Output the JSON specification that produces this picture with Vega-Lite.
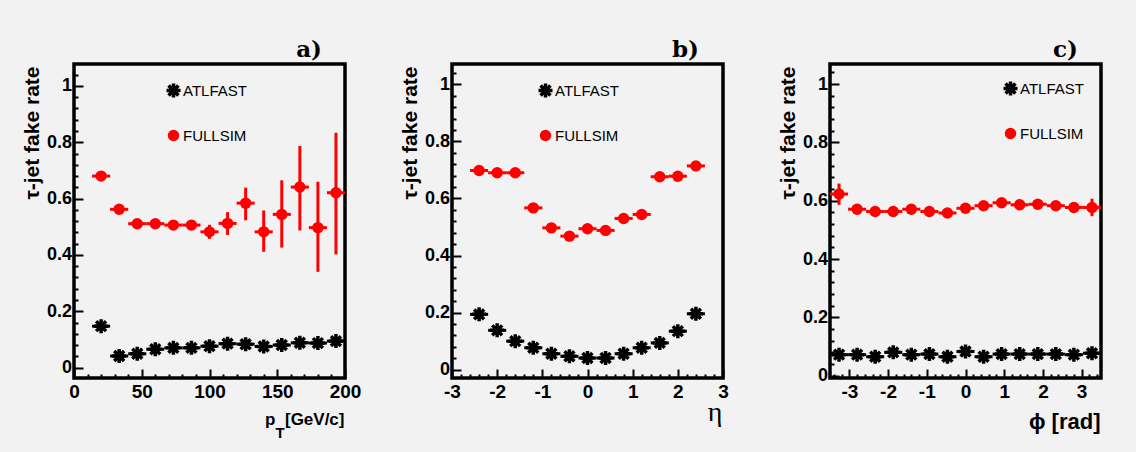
{
  "$schema": "https://vega.github.io/schema/vega-lite/v6.json",
  "background": "#f2f2f2",
  "padding": {"left": 19, "top": 37, "right": 40, "bottom": 15},
  "bounds": "flush",
  "spacing": 107,
  "resolve": {
    "scale": {"color": "independent", "shape": "independent", "size": "independent"},
    "legend": {"color": "independent", "shape": "independent", "size": "independent"}
  },
  "data": {"values": [
    {"p":"a","s":"ATLFAST","x":20,"xl":13.33,"xh":26.67,"y":0.147,"yl":0.142,"yh":0.152},
    {"p":"a","s":"ATLFAST","x":33.33,"xl":26.67,"xh":40,"y":0.041,"yl":0.036,"yh":0.046},
    {"p":"a","s":"ATLFAST","x":46.67,"xl":40,"xh":53.33,"y":0.049,"yl":0.044,"yh":0.054},
    {"p":"a","s":"ATLFAST","x":60,"xl":53.33,"xh":66.67,"y":0.065,"yl":0.06,"yh":0.07},
    {"p":"a","s":"ATLFAST","x":73.33,"xl":66.67,"xh":80,"y":0.07,"yl":0.065,"yh":0.075},
    {"p":"a","s":"ATLFAST","x":86.67,"xl":80,"xh":93.33,"y":0.07,"yl":0.065,"yh":0.075},
    {"p":"a","s":"ATLFAST","x":100,"xl":93.33,"xh":106.67,"y":0.076,"yl":0.071,"yh":0.081},
    {"p":"a","s":"ATLFAST","x":113.33,"xl":106.67,"xh":120,"y":0.085,"yl":0.08,"yh":0.09},
    {"p":"a","s":"ATLFAST","x":126.67,"xl":120,"xh":133.33,"y":0.083,"yl":0.078,"yh":0.088},
    {"p":"a","s":"ATLFAST","x":140,"xl":133.33,"xh":146.67,"y":0.075,"yl":0.07,"yh":0.08},
    {"p":"a","s":"ATLFAST","x":153.33,"xl":146.67,"xh":160,"y":0.08,"yl":0.075,"yh":0.085},
    {"p":"a","s":"ATLFAST","x":166.67,"xl":160,"xh":173.33,"y":0.088,"yl":0.083,"yh":0.093},
    {"p":"a","s":"ATLFAST","x":180,"xl":173.33,"xh":186.67,"y":0.087,"yl":0.082,"yh":0.092},
    {"p":"a","s":"ATLFAST","x":193.33,"xl":186.67,"xh":200,"y":0.094,"yl":0.089,"yh":0.099},
    {"p":"a","s":"FULLSIM","x":20,"xl":13.33,"xh":26.67,"y":0.68,"yl":0.665,"yh":0.695},
    {"p":"a","s":"FULLSIM","x":33.33,"xl":26.67,"xh":40,"y":0.562,"yl":0.547,"yh":0.577},
    {"p":"a","s":"FULLSIM","x":46.67,"xl":40,"xh":53.33,"y":0.511,"yl":0.496,"yh":0.526},
    {"p":"a","s":"FULLSIM","x":60,"xl":53.33,"xh":66.67,"y":0.511,"yl":0.496,"yh":0.526},
    {"p":"a","s":"FULLSIM","x":73.33,"xl":66.67,"xh":80,"y":0.506,"yl":0.491,"yh":0.521},
    {"p":"a","s":"FULLSIM","x":86.67,"xl":80,"xh":93.33,"y":0.506,"yl":0.488,"yh":0.524},
    {"p":"a","s":"FULLSIM","x":100,"xl":93.33,"xh":106.67,"y":0.482,"yl":0.457,"yh":0.507},
    {"p":"a","s":"FULLSIM","x":113.33,"xl":106.67,"xh":120,"y":0.512,"yl":0.471,"yh":0.552},
    {"p":"a","s":"FULLSIM","x":126.67,"xl":120,"xh":133.33,"y":0.584,"yl":0.523,"yh":0.639},
    {"p":"a","s":"FULLSIM","x":140,"xl":133.33,"xh":146.67,"y":0.482,"yl":0.411,"yh":0.558},
    {"p":"a","s":"FULLSIM","x":153.33,"xl":146.67,"xh":160,"y":0.544,"yl":0.426,"yh":0.665},
    {"p":"a","s":"FULLSIM","x":166.67,"xl":160,"xh":173.33,"y":0.641,"yl":0.487,"yh":0.787},
    {"p":"a","s":"FULLSIM","x":180,"xl":173.33,"xh":186.67,"y":0.497,"yl":0.34,"yh":0.66},
    {"p":"a","s":"FULLSIM","x":193.33,"xl":186.67,"xh":200,"y":0.621,"yl":0.402,"yh":0.834},

    {"p":"b","s":"ATLFAST","x":-2.4,"xl":-2.6,"xh":-2.2,"y":0.194,"yl":0.189,"yh":0.199},
    {"p":"b","s":"ATLFAST","x":-2,"xl":-2.2,"xh":-1.8,"y":0.138,"yl":0.133,"yh":0.143},
    {"p":"b","s":"ATLFAST","x":-1.6,"xl":-1.8,"xh":-1.4,"y":0.1,"yl":0.095,"yh":0.105},
    {"p":"b","s":"ATLFAST","x":-1.2,"xl":-1.4,"xh":-1,"y":0.077,"yl":0.072,"yh":0.082},
    {"p":"b","s":"ATLFAST","x":-0.8,"xl":-1,"xh":-0.6,"y":0.056,"yl":0.051,"yh":0.061},
    {"p":"b","s":"ATLFAST","x":-0.4,"xl":-0.6,"xh":-0.2,"y":0.047,"yl":0.042,"yh":0.052},
    {"p":"b","s":"ATLFAST","x":0,"xl":-0.2,"xh":0.2,"y":0.041,"yl":0.036,"yh":0.046},
    {"p":"b","s":"ATLFAST","x":0.4,"xl":0.2,"xh":0.6,"y":0.041,"yl":0.036,"yh":0.046},
    {"p":"b","s":"ATLFAST","x":0.8,"xl":0.6,"xh":1,"y":0.056,"yl":0.051,"yh":0.061},
    {"p":"b","s":"ATLFAST","x":1.2,"xl":1,"xh":1.4,"y":0.077,"yl":0.072,"yh":0.082},
    {"p":"b","s":"ATLFAST","x":1.6,"xl":1.4,"xh":1.8,"y":0.094,"yl":0.089,"yh":0.099},
    {"p":"b","s":"ATLFAST","x":2,"xl":1.8,"xh":2.2,"y":0.135,"yl":0.13,"yh":0.14},
    {"p":"b","s":"ATLFAST","x":2.4,"xl":2.2,"xh":2.6,"y":0.196,"yl":0.191,"yh":0.201},
    {"p":"b","s":"FULLSIM","x":-2.4,"xl":-2.6,"xh":-2.2,"y":0.698,"yl":0.683,"yh":0.713},
    {"p":"b","s":"FULLSIM","x":-2,"xl":-2.2,"xh":-1.8,"y":0.69,"yl":0.675,"yh":0.705},
    {"p":"b","s":"FULLSIM","x":-1.6,"xl":-1.8,"xh":-1.4,"y":0.69,"yl":0.675,"yh":0.705},
    {"p":"b","s":"FULLSIM","x":-1.2,"xl":-1.4,"xh":-1,"y":0.567,"yl":0.552,"yh":0.582},
    {"p":"b","s":"FULLSIM","x":-0.8,"xl":-1,"xh":-0.6,"y":0.497,"yl":0.482,"yh":0.512},
    {"p":"b","s":"FULLSIM","x":-0.4,"xl":-0.6,"xh":-0.2,"y":0.468,"yl":0.453,"yh":0.483},
    {"p":"b","s":"FULLSIM","x":0,"xl":-0.2,"xh":0.2,"y":0.494,"yl":0.479,"yh":0.509},
    {"p":"b","s":"FULLSIM","x":0.4,"xl":0.2,"xh":0.6,"y":0.488,"yl":0.473,"yh":0.503},
    {"p":"b","s":"FULLSIM","x":0.8,"xl":0.6,"xh":1,"y":0.53,"yl":0.515,"yh":0.545},
    {"p":"b","s":"FULLSIM","x":1.2,"xl":1,"xh":1.4,"y":0.544,"yl":0.529,"yh":0.559},
    {"p":"b","s":"FULLSIM","x":1.6,"xl":1.4,"xh":1.8,"y":0.676,"yl":0.661,"yh":0.691},
    {"p":"b","s":"FULLSIM","x":2,"xl":1.8,"xh":2.2,"y":0.678,"yl":0.663,"yh":0.693},
    {"p":"b","s":"FULLSIM","x":2.4,"xl":2.2,"xh":2.6,"y":0.714,"yl":0.699,"yh":0.729},

    {"p":"c","s":"ATLFAST","x":-3.267,"xl":-3.5,"xh":-3.033,"y":0.072,"yl":0.067,"yh":0.077},
    {"p":"c","s":"ATLFAST","x":-2.8,"xl":-3.033,"xh":-2.567,"y":0.072,"yl":0.067,"yh":0.077},
    {"p":"c","s":"ATLFAST","x":-2.333,"xl":-2.567,"xh":-2.1,"y":0.065,"yl":0.06,"yh":0.07},
    {"p":"c","s":"ATLFAST","x":-1.867,"xl":-2.1,"xh":-1.633,"y":0.08,"yl":0.075,"yh":0.085},
    {"p":"c","s":"ATLFAST","x":-1.4,"xl":-1.633,"xh":-1.167,"y":0.072,"yl":0.067,"yh":0.077},
    {"p":"c","s":"ATLFAST","x":-0.933,"xl":-1.167,"xh":-0.7,"y":0.074,"yl":0.069,"yh":0.079},
    {"p":"c","s":"ATLFAST","x":-0.467,"xl":-0.7,"xh":-0.233,"y":0.065,"yl":0.06,"yh":0.07},
    {"p":"c","s":"ATLFAST","x":0,"xl":-0.233,"xh":0.233,"y":0.083,"yl":0.078,"yh":0.088},
    {"p":"c","s":"ATLFAST","x":0.467,"xl":0.233,"xh":0.7,"y":0.065,"yl":0.06,"yh":0.07},
    {"p":"c","s":"ATLFAST","x":0.933,"xl":0.7,"xh":1.167,"y":0.074,"yl":0.069,"yh":0.079},
    {"p":"c","s":"ATLFAST","x":1.4,"xl":1.167,"xh":1.633,"y":0.074,"yl":0.069,"yh":0.079},
    {"p":"c","s":"ATLFAST","x":1.867,"xl":1.633,"xh":2.1,"y":0.074,"yl":0.069,"yh":0.079},
    {"p":"c","s":"ATLFAST","x":2.333,"xl":2.1,"xh":2.567,"y":0.074,"yl":0.069,"yh":0.079},
    {"p":"c","s":"ATLFAST","x":2.8,"xl":2.567,"xh":3.033,"y":0.072,"yl":0.067,"yh":0.077},
    {"p":"c","s":"ATLFAST","x":3.267,"xl":3.033,"xh":3.5,"y":0.077,"yl":0.072,"yh":0.082},
    {"p":"c","s":"FULLSIM","x":-3.267,"xl":-3.5,"xh":-3.033,"y":0.623,"yl":0.586,"yh":0.659},
    {"p":"c","s":"FULLSIM","x":-2.8,"xl":-3.033,"xh":-2.567,"y":0.571,"yl":0.556,"yh":0.586},
    {"p":"c","s":"FULLSIM","x":-2.333,"xl":-2.567,"xh":-2.1,"y":0.563,"yl":0.548,"yh":0.578},
    {"p":"c","s":"FULLSIM","x":-1.867,"xl":-2.1,"xh":-1.633,"y":0.563,"yl":0.548,"yh":0.578},
    {"p":"c","s":"FULLSIM","x":-1.4,"xl":-1.633,"xh":-1.167,"y":0.571,"yl":0.556,"yh":0.586},
    {"p":"c","s":"FULLSIM","x":-0.933,"xl":-1.167,"xh":-0.7,"y":0.563,"yl":0.548,"yh":0.578},
    {"p":"c","s":"FULLSIM","x":-0.467,"xl":-0.7,"xh":-0.233,"y":0.558,"yl":0.543,"yh":0.573},
    {"p":"c","s":"FULLSIM","x":0,"xl":-0.233,"xh":0.233,"y":0.574,"yl":0.559,"yh":0.589},
    {"p":"c","s":"FULLSIM","x":0.467,"xl":0.233,"xh":0.7,"y":0.583,"yl":0.568,"yh":0.598},
    {"p":"c","s":"FULLSIM","x":0.933,"xl":0.7,"xh":1.167,"y":0.593,"yl":0.578,"yh":0.608},
    {"p":"c","s":"FULLSIM","x":1.4,"xl":1.167,"xh":1.633,"y":0.586,"yl":0.571,"yh":0.601},
    {"p":"c","s":"FULLSIM","x":1.867,"xl":1.633,"xh":2.1,"y":0.588,"yl":0.573,"yh":0.603},
    {"p":"c","s":"FULLSIM","x":2.333,"xl":2.1,"xh":2.567,"y":0.583,"yl":0.568,"yh":0.598},
    {"p":"c","s":"FULLSIM","x":2.8,"xl":2.567,"xh":3.033,"y":0.577,"yl":0.562,"yh":0.592},
    {"p":"c","s":"FULLSIM","x":3.267,"xl":3.033,"xh":3.5,"y":0.577,"yl":0.547,"yh":0.607}
  ]},
  "hconcat": [
    {
      "width": 271, "height": 314,
      "title": {"text": "a)", "anchor": "end", "frame": "group", "dx": -23, "offset": -16, "baseline": "alphabetic", "font": "DejaVu Serif", "fontSize": 23, "fontWeight": "bold", "color": "black"},
      "transform": [{"filter": "datum.p == 'a'"}],
      "resolve": {"axis": {"x": "independent", "y": "independent"}},
      "layer": [
        {
          "mark": {"type": "rule", "strokeWidth": 3},
          "encoding": {
            "x": {"field": "xl", "type": "quantitative", "scale": {"domain": [0, 200], "nice": false, "zero": false},
              "axis": {"orient": "bottom", "values": [0,50,100,150,200], "labelExpr": "toString(datum.value)", "tickSize": -9, "labelPadding": 13,
                "title": "[GeV/c]", "titleX": 270, "titleY": 46, "titleAlign": "right", "titleBaseline": "alphabetic", "titleAnchor": null}},
            "x2": {"field": "xh"},
            "y": {"field": "y", "type": "quantitative", "scale": {"domain": [-0.037, 1.078], "nice": false, "zero": false},
              "axis": {"orient": "left", "values": [0,0.2,0.4,0.6,0.8,1], "labelExpr": "toString(datum.value)", "tickSize": -9, "labelPadding": 11.5,
                "title": "τ-jet fake rate", "titleX": -35.5, "titleY": 2, "titleAngle": 270, "titleAlign": "right", "titleBaseline": "alphabetic", "titleAnchor": null}},
            "color": {"condition": {"test": "datum.s == 'FULLSIM'", "value": "#ff0000"}, "value": "black"}
          }
        },
        {
          "mark": {"type": "rule", "strokeWidth": 3},
          "encoding": {
            "x": {"field": "x", "type": "quantitative",
              "axis": {"orient": "bottom", "values": [10,20,30,40,60,70,80,90,110,120,130,140,160,170,180,190], "labels": false, "tickSize": -4,
                "title": "p", "titleX": 201, "titleY": 46, "titleAlign": "right", "titleBaseline": "alphabetic", "titleAnchor": null}},
            "y": {"field": "yl", "type": "quantitative",
              "axis": {"orient": "left", "values": [0.04,0.08,0.12,0.16,0.24,0.28,0.32,0.36,0.44,0.48,0.52,0.56,0.64,0.68,0.72,0.76,0.84,0.88,0.92,0.96,1.04], "labels": false, "tickSize": -4, "title": null}},
            "y2": {"field": "yh"},
            "color": {"condition": {"test": "datum.s == 'FULLSIM'", "value": "#ff0000"}, "value": "black"}
          }
        },
        {
          "mark": {"type": "point", "filled": true, "opacity": 1, "strokeWidth": 0},
          "encoding": {
            "x": {"field": "x", "type": "quantitative",
              "axis": {"orient": "bottom", "labels": false, "ticks": false, "domain": false, "title": "T", "titleFontSize": 15, "titleX": 201, "titleY": 59, "titleAlign": "left", "titleBaseline": "alphabetic", "titleAnchor": null}},
            "y": {"field": "y", "type": "quantitative", "axis": null},
            "color": {"field": "s", "type": "nominal", "scale": {"domain": ["ATLFAST", "FULLSIM"], "range": ["black", "#ff0000"]},
              "legend": {"orient": "none", "legendX": 92, "legendY": 19, "title": null}},
            "shape": {"field": "s", "type": "nominal", "scale": {"domain": ["ATLFAST", "FULLSIM"], "range": ["M-1,-0.25L1,-0.25L1,0.25L-1,0.25ZM-0.25,-1L0.25,-1L0.25,1L-0.25,1ZM-0.53,-0.884L0.884,0.53L0.53,0.884L-0.884,-0.53ZM0.884,-0.53L-0.53,0.884L-0.884,0.53L0.53,-0.884Z", "circle"]},
              "legend": {"orient": "none", "legendX": 92, "legendY": 19, "title": null}},
            "size": {"field": "s", "type": "ordinal", "scale": {"domain": ["ATLFAST", "FULLSIM"], "range": [196, 130]},
              "legend": {"orient": "none", "legendX": 92, "legendY": 19, "title": null}}
          }
        }
      ]
    },
    {
      "width": 271, "height": 314,
      "title": {"text": "b)", "anchor": "end", "frame": "group", "dx": -24, "offset": -16, "baseline": "alphabetic", "font": "DejaVu Serif", "fontSize": 23, "fontWeight": "bold", "color": "black"},
      "transform": [{"filter": "datum.p == 'b'"}],
      "resolve": {"axis": {"x": "independent", "y": "independent"}},
      "layer": [
        {
          "mark": {"type": "rule", "strokeWidth": 3},
          "encoding": {
            "x": {"field": "xl", "type": "quantitative", "scale": {"domain": [-3, 3], "nice": false, "zero": false},
              "axis": {"orient": "bottom", "values": [-3,-2,-1,0,1,2,3], "labelExpr": "toString(datum.value)", "tickSize": -9, "labelPadding": 13,
                "title": "η", "titleFont": "Liberation Serif", "titleFontWeight": "normal", "titleFontSize": 28, "titleX": 270, "titleY": 42, "titleAlign": "right", "titleBaseline": "alphabetic", "titleAnchor": null}},
            "x2": {"field": "xh"},
            "y": {"field": "y", "type": "quantitative", "scale": {"domain": [-0.029, 1.071], "nice": false, "zero": false},
              "axis": {"orient": "left", "values": [0,0.2,0.4,0.6,0.8,1], "labelExpr": "toString(datum.value)", "tickSize": -9, "labelPadding": 11.5,
                "title": "τ-jet fake rate", "titleX": -35.5, "titleY": 2, "titleAngle": 270, "titleAlign": "right", "titleBaseline": "alphabetic", "titleAnchor": null}},
            "color": {"condition": {"test": "datum.s == 'FULLSIM'", "value": "#ff0000"}, "value": "black"}
          }
        },
        {
          "mark": {"type": "rule", "strokeWidth": 3},
          "encoding": {
            "x": {"field": "x", "type": "quantitative",
              "axis": {"orient": "bottom", "values": [-2.8,-2.6,-2.4,-2.2,-1.8,-1.6,-1.4,-1.2,-0.8,-0.6,-0.4,-0.2,0.2,0.4,0.6,0.8,1.2,1.4,1.6,1.8,2.2,2.4,2.6,2.8], "labels": false, "tickSize": -4, "title": null}},
            "y": {"field": "yl", "type": "quantitative",
              "axis": {"orient": "left", "values": [0.04,0.08,0.12,0.16,0.24,0.28,0.32,0.36,0.44,0.48,0.52,0.56,0.64,0.68,0.72,0.76,0.84,0.88,0.92,0.96,1.04], "labels": false, "tickSize": -4, "title": null}},
            "y2": {"field": "yh"},
            "color": {"condition": {"test": "datum.s == 'FULLSIM'", "value": "#ff0000"}, "value": "black"}
          }
        },
        {
          "mark": {"type": "point", "filled": true, "opacity": 1, "strokeWidth": 0},
          "encoding": {
            "x": {"field": "x", "type": "quantitative", "axis": null},
            "y": {"field": "y", "type": "quantitative", "axis": null},
            "color": {"field": "s", "type": "nominal", "scale": {"domain": ["ATLFAST", "FULLSIM"], "range": ["black", "#ff0000"]},
              "legend": {"orient": "none", "legendX": 86, "legendY": 19, "title": null}},
            "shape": {"field": "s", "type": "nominal", "scale": {"domain": ["ATLFAST", "FULLSIM"], "range": ["M-1,-0.25L1,-0.25L1,0.25L-1,0.25ZM-0.25,-1L0.25,-1L0.25,1L-0.25,1ZM-0.53,-0.884L0.884,0.53L0.53,0.884L-0.884,-0.53ZM0.884,-0.53L-0.53,0.884L-0.884,0.53L0.53,-0.884Z", "circle"]},
              "legend": {"orient": "none", "legendX": 86, "legendY": 19, "title": null}},
            "size": {"field": "s", "type": "ordinal", "scale": {"domain": ["ATLFAST", "FULLSIM"], "range": [196, 130]},
              "legend": {"orient": "none", "legendX": 86, "legendY": 19, "title": null}}
          }
        }
      ]
    },
    {
      "width": 271, "height": 314,
      "title": {"text": "c)", "anchor": "end", "frame": "group", "dx": -23, "offset": -16, "baseline": "alphabetic", "font": "DejaVu Serif", "fontSize": 23, "fontWeight": "bold", "color": "black"},
      "transform": [{"filter": "datum.p == 'c'"}],
      "resolve": {"axis": {"x": "independent", "y": "independent"}},
      "layer": [
        {
          "mark": {"type": "rule", "strokeWidth": 3},
          "encoding": {
            "x": {"field": "xl", "type": "quantitative", "scale": {"domain": [-3.5, 3.5], "nice": false, "zero": false},
              "axis": {"orient": "bottom", "values": [-3,-2,-1,0,1,2,3], "labelExpr": "toString(datum.value)", "tickSize": -9, "labelPadding": 13,
                "title": "ϕ [rad]", "titleFontSize": 22, "titleX": 270, "titleY": 50, "titleAlign": "right", "titleBaseline": "alphabetic", "titleAnchor": null}},
            "x2": {"field": "xh"},
            "y": {"field": "y", "type": "quantitative", "scale": {"domain": [-0.008, 1.069], "nice": false, "zero": false},
              "axis": {"orient": "left", "values": [0,0.2,0.4,0.6,0.8,1], "labelExpr": "toString(datum.value)", "tickSize": -9, "labelPadding": 11.5,
                "title": "τ-jet fake rate", "titleX": -35.5, "titleY": 2, "titleAngle": 270, "titleAlign": "right", "titleBaseline": "alphabetic", "titleAnchor": null}},
            "color": {"condition": {"test": "datum.s == 'FULLSIM'", "value": "#ff0000"}, "value": "black"}
          }
        },
        {
          "mark": {"type": "rule", "strokeWidth": 3},
          "encoding": {
            "x": {"field": "x", "type": "quantitative",
              "axis": {"orient": "bottom", "values": [-3.4,-3.2,-2.8,-2.6,-2.4,-2.2,-1.8,-1.6,-1.4,-1.2,-0.8,-0.6,-0.4,-0.2,0.2,0.4,0.6,0.8,1.2,1.4,1.6,1.8,2.2,2.4,2.6,2.8,3.2,3.4], "labels": false, "tickSize": -4, "title": null}},
            "y": {"field": "yl", "type": "quantitative",
              "axis": {"orient": "left", "values": [0.04,0.08,0.12,0.16,0.24,0.28,0.32,0.36,0.44,0.48,0.52,0.56,0.64,0.68,0.72,0.76,0.84,0.88,0.92,0.96,1.04], "labels": false, "tickSize": -4, "title": null}},
            "y2": {"field": "yh"},
            "color": {"condition": {"test": "datum.s == 'FULLSIM'", "value": "#ff0000"}, "value": "black"}
          }
        },
        {
          "mark": {"type": "point", "filled": true, "opacity": 1, "strokeWidth": 0},
          "encoding": {
            "x": {"field": "x", "type": "quantitative", "axis": null},
            "y": {"field": "y", "type": "quantitative", "axis": null},
            "color": {"field": "s", "type": "nominal", "scale": {"domain": ["ATLFAST", "FULLSIM"], "range": ["black", "#ff0000"]},
              "legend": {"orient": "none", "legendX": 173, "legendY": 17, "title": null}},
            "shape": {"field": "s", "type": "nominal", "scale": {"domain": ["ATLFAST", "FULLSIM"], "range": ["M-1,-0.25L1,-0.25L1,0.25L-1,0.25ZM-0.25,-1L0.25,-1L0.25,1L-0.25,1ZM-0.53,-0.884L0.884,0.53L0.53,0.884L-0.884,-0.53ZM0.884,-0.53L-0.53,0.884L-0.884,0.53L0.53,-0.884Z", "circle"]},
              "legend": {"orient": "none", "legendX": 173, "legendY": 17, "title": null}},
            "size": {"field": "s", "type": "ordinal", "scale": {"domain": ["ATLFAST", "FULLSIM"], "range": [196, 130]},
              "legend": {"orient": "none", "legendX": 173, "legendY": 17, "title": null}}
          }
        }
      ]
    }
  ],
  "config": {
    "view": {"stroke": "black", "strokeWidth": 3.5, "fill": "#f2f2f2"},
    "axis": {
      "domain": false, "grid": false, "tickColor": "black", "tickWidth": 2,
      "labelFont": "Liberation Sans", "labelFontWeight": "bold", "labelFontSize": 18, "labelColor": "black",
      "labelOverlap": false, "labelFlush": false,
      "titleFont": "Liberation Sans", "titleFontWeight": "bold", "titleFontSize": 17, "titleColor": "black"
    },
    "axisX": {"labelFontSize": 19},
    "axisY": {"titleFont": "Liberation Sans", "titleFontSize": 21},
    "legend": {
      "labelFont": "Liberation Sans", "labelFontSize": 15, "labelColor": "black",
      "rowPadding": 29, "labelOffset": 2, "symbolStrokeWidth": 0
    }
  }
}
